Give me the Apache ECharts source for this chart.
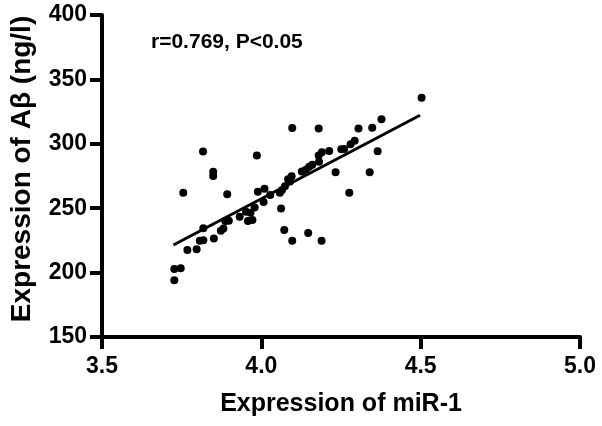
<!DOCTYPE html>
<html>
<head>
<meta charset="utf-8">
<script src="https://cdn.jsdelivr.net/npm/echarts@6/dist/echarts.min.js"></script>
<style>
html,body{margin:0;padding:0;background:#fff;}
#chart{width:602px;height:426px;}
</style>
</head>
<body>
<div id="chart"></div>
<script>
// miR-1 expression (x) and Aβ expression (y)
const mirValues = [3.727,3.727,3.747,3.755,3.768,3.797,3.807,3.818,3.818,3.817,
  3.849,3.849,3.851,3.873,3.881,3.893,3.887,3.898,3.932,3.952,
  3.958,3.972,3.966,3.979,3.986,3.989,4.007,4.010,4.028,4.058,
  4.065,4.062,4.072,4.074,4.084,4.090,4.095,4.097,4.097,4.127,
  4.140,4.150,4.160,4.147,4.180,4.181,4.180,4.190,4.189,4.213,
  4.233,4.251,4.260,4.276,4.280,4.293,4.305,4.340,4.348,4.365,
  4.377,4.503];
const abetaValues = [194.0,202.8,203.3,262.0,217.5,218.1,224.8,225.1,234.4,294.0,
  278.3,275.0,226.5,232.4,234.3,260.8,240.1,240.3,243.4,247.3,
  240.1,240.9,246.5,250.5,291.0,262.7,254.9,265.1,260.2,262.0,
  264.1,249.8,233.0,267.0,272.5,270.7,274.8,312.3,224.8,278.5,
  279.8,282.2,283.7,230.7,311.9,286.0,290.9,293.5,224.8,294.5,
  278.0,295.8,296.0,262.0,299.6,302.3,311.8,277.9,312.5,294.3,
  319.0,335.8];
// regression line endpoints
const fitX = [3.724, 4.498];
const fitY = [221.4, 322.2];
const xTicks = [3.5, 4.0, 4.5, 5.0];
const yTicks = [150, 200, 250, 300, 350, 400];
const annotation = 'r=0.769, P<0.05';

const FONT = '"Liberation Sans", Arial, Helvetica, sans-serif';
const chart = echarts.init(document.getElementById('chart'), null, {renderer: 'canvas'});

const points = mirValues.map((x, i) => [x, abetaValues[i]]);
const line = fitX.map((x, i) => [x, fitY[i]]);

chart.setOption({
  animation: false,
  backgroundColor: '#ffffff',
  grid: {left: 97, right: 22, top: 15, bottom: 89, containLabel: false},
  xAxis: {
    type: 'value',
    min: xTicks[0], max: xTicks[xTicks.length - 1], interval: 0.5,
    name: 'Expression of miR-1',
    nameLocation: 'middle',
    nameGap: 55,
    nameTextStyle: {fontFamily: FONT, fontWeight: 'bold', fontSize: 25, color: '#000'},
    axisLine: {show: true, onZero: false, lineStyle: {color: '#000', width: 4}},
    axisTick: {show: true, inside: false, length: 12, lineStyle: {color: '#000', width: 4}},
    axisLabel: {fontFamily: FONT, fontWeight: 'bold', fontSize: 23, color: '#000', margin: 18,
      formatter: v => v.toFixed(1)},
    splitLine: {show: false}
  },
  yAxis: {
    type: 'value',
    min: yTicks[0], max: yTicks[yTicks.length - 1], interval: 50,
    name: 'Expression of Aβ (ng/l)',
    nameLocation: 'middle',
    nameGap: 66,
    nameTextStyle: {fontFamily: FONT, fontWeight: 'bold', fontSize: 28, color: '#000',
      padding: [0, 0, 0, 14]},
    axisLine: {show: true, onZero: false, lineStyle: {color: '#000', width: 4}},
    axisTick: {show: true, inside: false, length: 12, lineStyle: {color: '#000', width: 4}},
    axisLabel: {fontFamily: FONT, fontWeight: 'bold', fontSize: 23, color: '#000', margin: 15},
    splitLine: {show: false}
  },
  graphic: [{
    type: 'text', left: 151, top: 32,
    style: {text: annotation, fontFamily: FONT, fontWeight: 'bold', fontSize: 21, fill: '#000'}
  }],
  series: [
    {
      type: 'scatter', data: points, symbol: 'circle', symbolSize: 8,
      itemStyle: {color: '#000', opacity: 1}
    },
    {
      type: 'line', data: line, symbol: 'none',
      lineStyle: {color: '#000', width: 3, opacity: 1}
    }
  ]
});
</script>
</body>
</html>
